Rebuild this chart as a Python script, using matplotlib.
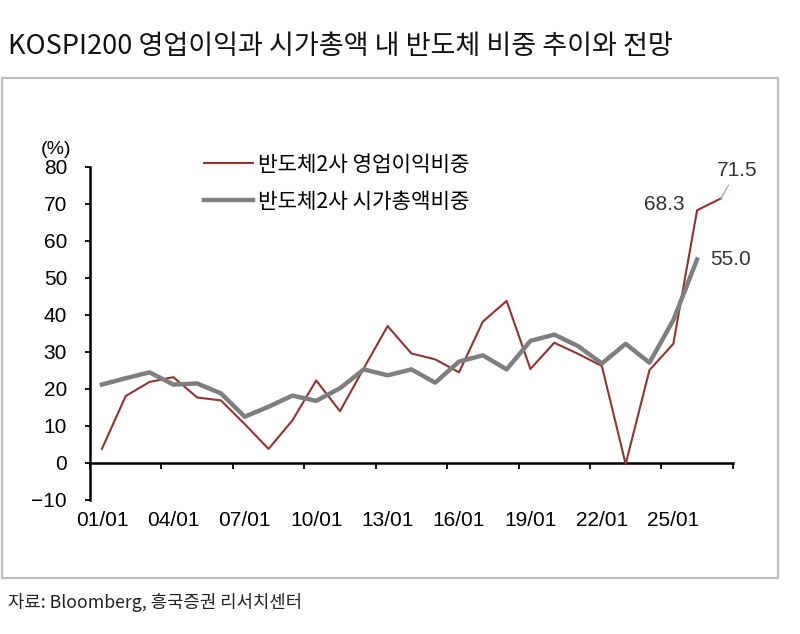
import matplotlib
matplotlib.use("agg")
from matplotlib import pyplot as plt
from matplotlib.patches import Rectangle

plt.rcParams['font.family'] = ['Liberation Sans', 'Noto Sans CJK KR', 'DejaVu Sans']

# yearly data, 2001 ~ 2027 (last points are forecasts)
years_op = list(range(2001, 2028))
op_share = [3.8, 18.1, 21.9, 23.2, 17.7, 16.9, 10.5, 3.8, 11.5, 22.3,
            14.0, 25.6, 37.0, 29.6, 28.0, 24.5, 38.2, 43.8, 25.4, 32.5,
            29.5, 26.2, -0.3, 25.1, 32.2, 68.3, 71.5]

years_mc = list(range(2001, 2027))
mc_share = [21.2, 22.9, 24.5, 21.2, 21.5, 18.8, 12.5, 15.2, 18.2, 16.8,
            20.2, 25.3, 23.7, 25.3, 21.7, 27.4, 29.1, 25.3, 33.0, 34.7,
            31.6, 26.9, 32.2, 27.1, 38.6, 55.0]

label_years = list(range(2001, 2026, 3))
tick_labels = ['01/01', '04/01', '07/01', '10/01', '13/01', '16/01', '19/01', '22/01', '25/01']
yticks = list(range(-10, 81, 10))

red = '#8E3431'
gray = '#7F7F7F'

fig = plt.figure(figsize=(8, 6.34), dpi=100)

# outer frame of the chart
fig.patches.append(Rectangle((0.003, 0.088), 0.97, 0.789, transform=fig.transFigure,
                             fill=False, edgecolor='#BDBDBD', linewidth=1.5))

fig.text(0.01, 0.926, 'KOSPI200 영업이익과 시가총액 내 반도체 비중 추이와 전망',
         family=['Noto Sans CJK KR'], fontsize=19.5, va='center', ha='left', color='#111111')
fig.text(0.01, 0.049, '자료: Bloomberg, 흥국증권 리서치센터',
         family=['Noto Sans CJK KR'], fontsize=12.8, va='center', ha='left', color='#222222')

ax = fig.add_axes([0.1125, 0.2114, 0.8035, 0.5252])
ax.plot(years_op, op_share, color=red, linewidth=1.5, label='반도체2사 영업이익비중')
ax.plot(years_mc, mc_share, color=gray, linewidth=3.2, label='반도체2사 시가총액비중')

ax.set_xlim(2000.5, 2027.5)
ax.set_ylim(-10, 80)
ax.set_yticks(yticks)
ax.tick_params(axis='y', direction='out', length=3.5, width=1.3, pad=13, labelsize=15)
ax.set_xticks(label_years)
ax.set_xticklabels(tick_labels)
ax.tick_params(axis='x', length=0, pad=8, labelsize=15)

for s in ['top', 'right', 'bottom']:
    ax.spines[s].set_visible(False)
ax.spines['left'].set_linewidth(1.8)

# x axis line crossing at 0 with ticks between categories
sec = ax.secondary_xaxis(10 / 90)
sec.set_xticks([y - 0.5 for y in label_years] + [2027.5])
sec.set_xticklabels([])
sec.tick_params(direction='out', length=4, width=1.3)
sec.spines['bottom'].set_linewidth(1.8)

ax.text(-0.053, 1.054, '(%)', transform=ax.transAxes, fontsize=14, ha='center', va='center')

leg = ax.legend(loc='upper left', bbox_to_anchor=(0.177, 1.04), frameon=False,
                prop={'family': ['Noto Sans CJK KR'], 'size': 15.3},
                handlelength=2.3, handletextpad=0.24, labelspacing=0.7,
                borderpad=0, borderaxespad=0)
leg.get_lines()[1].set_linewidth(3.2)

ax.annotate('68.3', xy=(years_op[-2], op_share[-2]), xytext=(-12, 6),
            textcoords='offset pixels', ha='right', va='center', fontsize=15, color='#333333')
ax.annotate('71.5', xy=(years_op[-1], op_share[-1]), xytext=(16, 28),
            textcoords='offset pixels', ha='center', va='center', fontsize=15, color='#333333',
            arrowprops=dict(arrowstyle='-', color='#AAAAAA', linewidth=1, shrinkA=2, shrinkB=0))
ax.annotate('55.0', xy=(years_mc[-1], mc_share[-1]), xytext=(13, 0),
            textcoords='offset pixels', ha='left', va='center', fontsize=15, color='#333333')

plt.savefig('out.png', dpi=100)
